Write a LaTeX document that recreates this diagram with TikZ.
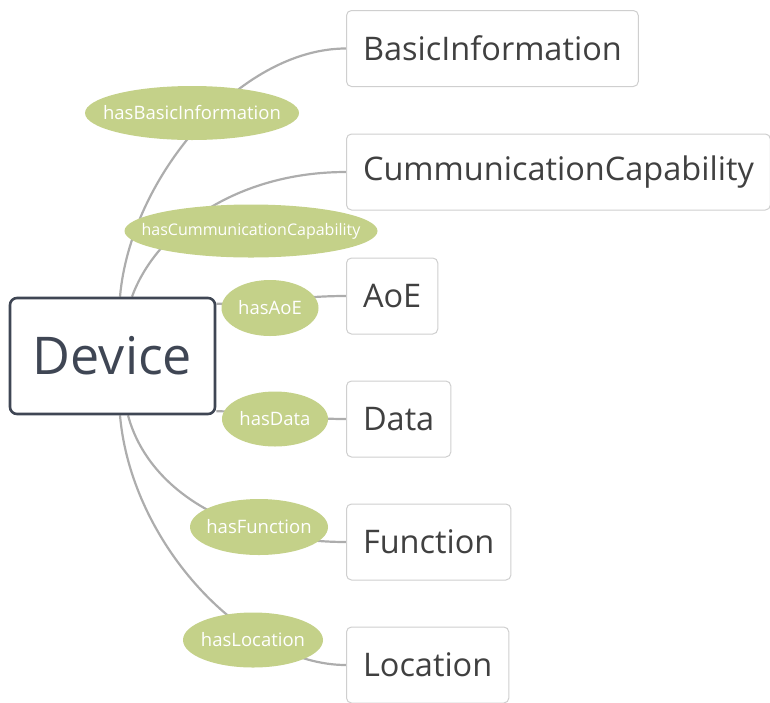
\documentclass[tikz,border=0pt]{standalone}
\usepackage{fontspec}
\setmainfont{Open Sans}
\usetikzlibrary{shapes.geometric,backgrounds}

\definecolor{devline}{HTML}{3F4654}
\definecolor{leafline}{HTML}{CFCFCF}
\definecolor{leaftext}{HTML}{404040}
\definecolor{relfill}{HTML}{C4D189}
\definecolor{linkgray}{HTML}{ADADAD}

\tikzset{
  devbox/.style={draw=devline, line width=2.6pt, rounded corners=7pt, fill=white,
    minimum width=205pt, minimum height=116pt, text=devline,
    font=\fontsize{52}{58}\selectfont},
  leafbox/.style={draw=leafline, line width=1pt, rounded corners=5pt, fill=white,
    anchor=west, minimum height=76pt, inner xsep=16.5pt, text=leaftext,
    font=\fontsize{32.5}{38}\selectfont},
  relnode/.style={ellipse, fill=relfill, inner xsep=-45pt, inner ysep=0pt, text=white,
    font=\fontsize{18.5}{22}\selectfont},
  link/.style={draw=linkgray, line width=2.2pt}
}

\begin{document}
\begin{tikzpicture}[x=1pt,y=1pt]
  \useasboundingbox (0,0) rectangle (770,-702);

  % central concept
  \node[devbox] (dev) at (112.5,-356) {Device};

  % leaves
  \node[leafbox] (basic) at (346,-48.5) {BasicInformation};
  \node[leafbox] (comm)  at (346,-172)  {CummunicationCapability};
  \node[leafbox] (aoe)   at (346,-296)  {AoE};
  \node[leafbox] (data)  at (346,-419)  {Data};
  \node[leafbox] (func)  at (346,-542)  {Function};
  \node[leafbox] (loc)   at (346,-665)  {Location};

  % relations
  \node[relnode, minimum width=214pt, minimum height=54pt] (hasbasic) at (192,-113) {hasBasicInformation};
  \node[relnode, minimum width=253pt, minimum height=53pt, font=\fontsize{16}{19}\selectfont] (hascomm) at (251,-231) {hasCummunicationCapability};
  \node[relnode, minimum width=97pt, minimum height=56pt] (hasaoe) at (270,-308) {hasAoE};
  \node[relnode, minimum width=106pt, minimum height=55pt] (hasdata) at (275,-419) {hasData};
  \node[relnode, minimum width=138pt, minimum height=56pt] (hasfunc) at (259,-527) {hasFunction};
  \node[relnode, minimum width=140pt, minimum height=55pt] (hasloc) at (253,-640) {hasLocation};

  % connectors
  \begin{pgfonlayer}{background}
    \draw[link] ([xshift=7.5pt]dev.north) to[out=85, in=180, out distance=120pt, in distance=106pt] (basic.west);
    \draw[link] ([xshift=19.5pt]dev.north) to[out=70, in=180, out distance=70pt, in distance=110pt] (comm.west);
    \draw[link] ([yshift=-7pt]dev.north east) to[out=0, in=180] (aoe.west);
    \draw[link] ([yshift=4pt]dev.south east) to[out=0, in=180] (data.west);
    \draw[link] ([xshift=15.5pt]dev.south) to[out=-75, in=180, out distance=80pt, in distance=110pt] (func.west);
    \draw[link] ([xshift=7.5pt]dev.south) to[out=-85, in=180, out distance=130pt, in distance=100pt] (loc.west);
  \end{pgfonlayer}
\end{tikzpicture}
\end{document}
